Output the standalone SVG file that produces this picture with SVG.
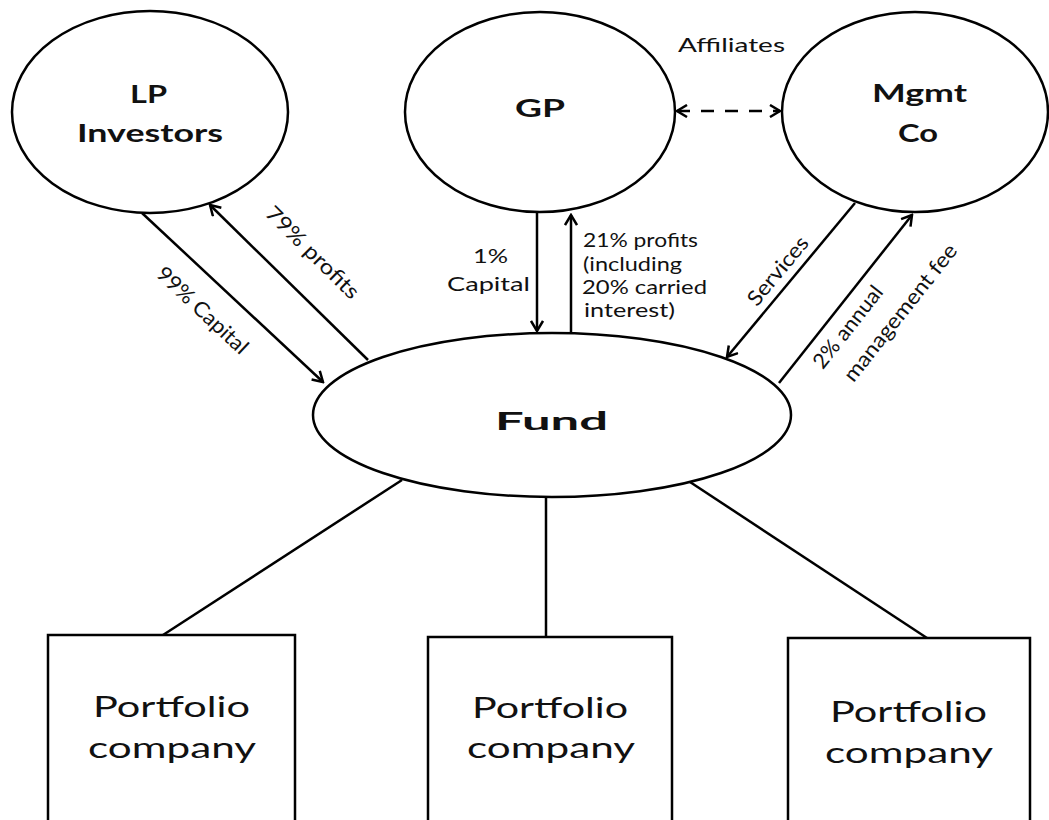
<svg xmlns="http://www.w3.org/2000/svg" width="1049" height="820" viewBox="0 0 1049 820">
  <style>
    .shape { fill: #ffffff; stroke: #000000; stroke-width: 2.5; }
    .conn { fill: none; stroke: #000000; stroke-width: 2.5; }
    .dash { stroke-dasharray: 13 11; }
    text { font-family: Lato, "Open Sans", "Liberation Sans", sans-serif; fill: #111111; }
    .title { font-weight: bold; font-size: 24px; text-anchor: middle; }
    .lbl { font-size: 20px; }
    .blk { font-size: 19px; }
    .rot { font-size: 21px; text-anchor: middle; }
    .mid { text-anchor: middle; }
    .pc { font-size: 28px; text-anchor: middle; }
  </style>
  <defs>
    <marker id="arr" viewBox="0 0 14 14" refX="12" refY="7" markerWidth="14" markerHeight="14" markerUnits="userSpaceOnUse" orient="auto-start-reverse">
      <path d="M2,1 L12,7 L2,13" fill="none" stroke="#000000" stroke-width="2.5"/>
    </marker>
  </defs>
  <rect x="0" y="0" width="1049" height="820" fill="#ffffff"/>

  <g id="connectors">
    <line class="conn" x1="142" y1="213" x2="323" y2="382" marker-end="url(#arr)"/>
    <line class="conn" x1="368" y1="360" x2="210" y2="205" marker-end="url(#arr)"/>
    <line class="conn" x1="537" y1="212" x2="537" y2="331" marker-end="url(#arr)"/>
    <line class="conn" x1="571" y1="334" x2="571" y2="215" marker-end="url(#arr)"/>
    <line class="conn" x1="855" y1="203" x2="727" y2="357" marker-end="url(#arr)"/>
    <line class="conn" x1="779" y1="383" x2="912" y2="215" marker-end="url(#arr)"/>
    <line class="conn dash" x1="677" y1="111" x2="780" y2="111" marker-start="url(#arr)" marker-end="url(#arr)"/>
    <line class="conn" x1="402" y1="480" x2="163" y2="635"/>
    <line class="conn" x1="546" y1="497" x2="546" y2="637"/>
    <line class="conn" x1="690" y1="482" x2="927" y2="638"/>
    <text class="lbl mid" x="731.5" y="52" textLength="107" lengthAdjust="spacingAndGlyphs">Affiliates</text>
    <text class="rot" transform="translate(201,312) rotate(43.2)" x="0" y="5" textLength="117" lengthAdjust="spacingAndGlyphs">99% Capital</text>
    <text class="rot" transform="translate(311,254) rotate(44.6)" x="0" y="5" textLength="122" lengthAdjust="spacingAndGlyphs">79% profits</text>
    <text class="lbl mid" x="490.5" y="263" textLength="35" lengthAdjust="spacingAndGlyphs">1%</text>
    <text class="lbl mid" x="488.5" y="291" textLength="83" lengthAdjust="spacingAndGlyphs">Capital</text>
    <text class="blk" x="583" y="247" textLength="115" lengthAdjust="spacingAndGlyphs">21% profits</text>
    <text class="blk" x="583" y="271" textLength="99" lengthAdjust="spacingAndGlyphs">(including</text>
    <text class="blk" x="582" y="294" textLength="125" lengthAdjust="spacingAndGlyphs">20% carried</text>
    <text class="blk" x="584" y="317" textLength="91" lengthAdjust="spacingAndGlyphs">interest)</text>
    <text class="rot" transform="translate(778,271) rotate(-50.3)" x="0" y="7" textLength="83" lengthAdjust="spacingAndGlyphs">Services</text>
    <text class="rot" transform="translate(848,327) rotate(-51.6)" x="0" y="7" textLength="99" lengthAdjust="spacingAndGlyphs">2% annual</text>
    <text class="rot" transform="translate(902,314) rotate(-51.6)" x="0" y="5" textLength="169" lengthAdjust="spacingAndGlyphs">management fee</text>
  </g>

  <g id="lp-investors">
    <ellipse class="shape" cx="150" cy="112" rx="138" ry="101"/>
    <text class="title" x="148.5" y="103" textLength="37" lengthAdjust="spacingAndGlyphs">LP</text>
    <text class="title" x="150" y="142" textLength="146" lengthAdjust="spacingAndGlyphs">Investors</text>
  </g>

  <g id="gp">
    <ellipse class="shape" cx="540" cy="112" rx="135" ry="100"/>
    <text class="title" x="540" y="117" font-size="28" textLength="50" lengthAdjust="spacingAndGlyphs">GP</text>
  </g>

  <g id="mgmt-co">
    <ellipse class="shape" cx="915" cy="112" rx="133" ry="100"/>
    <text class="title" x="919.5" y="102" textLength="95" lengthAdjust="spacingAndGlyphs">Mgmt</text>
    <text class="title" x="918" y="142" textLength="40" lengthAdjust="spacingAndGlyphs">Co</text>
  </g>

  <g id="fund">
    <ellipse class="shape" cx="552" cy="415" rx="239" ry="82"/>
    <text class="title" x="551.5" y="430" font-size="39" textLength="113" lengthAdjust="spacingAndGlyphs">Fund</text>
  </g>

  <g id="portfolio-1">
    <rect class="shape" x="48" y="635" width="247" height="200"/>
    <text class="pc" x="171.5" y="717" textLength="157" lengthAdjust="spacingAndGlyphs">Portfolio</text>
    <text class="pc" x="172" y="758" textLength="168" lengthAdjust="spacingAndGlyphs">company</text>
  </g>

  <g id="portfolio-2">
    <rect class="shape" x="428" y="637" width="244" height="200"/>
    <text class="pc" x="550" y="718" textLength="156" lengthAdjust="spacingAndGlyphs">Portfolio</text>
    <text class="pc" x="551" y="758" textLength="168" lengthAdjust="spacingAndGlyphs">company</text>
  </g>

  <g id="portfolio-3">
    <rect class="shape" x="788" y="638" width="242" height="200"/>
    <text class="pc" x="908.5" y="722" textLength="157" lengthAdjust="spacingAndGlyphs">Portfolio</text>
    <text class="pc" x="909" y="763" textLength="168" lengthAdjust="spacingAndGlyphs">company</text>
  </g>
</svg>
